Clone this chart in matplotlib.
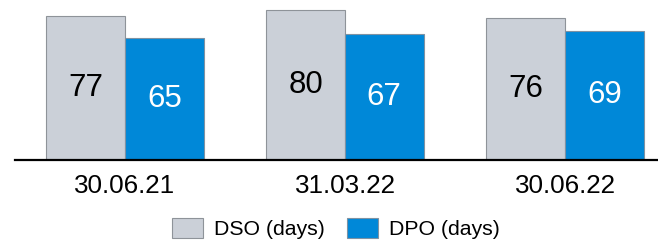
import matplotlib
matplotlib.use("Agg")
import matplotlib.pyplot as plt
from matplotlib.patches import Patch
import numpy as np

plt.rcParams['font.family'] = ['Liberation Sans', 'DejaVu Sans']

categories = ["30.06.21", "31.03.22", "30.06.22"]
dso = [77, 80, 76]
dpo = [65, 67, 69]
series_names = ["DSO (days)", "DPO (days)"]

grey = "#CBD0D8"
blue = "#0088D8"
edge = "#8E9399"

W, H = 658, 240
fig = plt.figure(figsize=(W / 100, H / 100), dpi=100)
ax = fig.add_axes([15 / W, 80 / H, (657 - 15) / W, 160 / H])

x = np.arange(len(categories))
w = 0.357
b1 = ax.bar(x - w / 2, dso, w, color=grey, edgecolor=edge, linewidth=0.8)
b2 = ax.bar(x + w / 2, dpo, w, color=blue, edgecolor="#7E92A3", linewidth=0.8)

for rect, v in zip(b1, dso):
    ax.text(rect.get_x() + rect.get_width() / 2, v / 2, str(v),
            ha="center", va="center", fontsize=22.5, color="black")
for rect, v in zip(b2, dpo):
    ax.text(rect.get_x() + rect.get_width() / 2, v / 2, str(v),
            ha="center", va="center", fontsize=22.5, color="white")

ax.set_xlim(-0.5, 2.418)
ax.set_ylim(0, 85.4)
ax.set_xticks(x)
ax.set_xticklabels(categories, fontsize=18.7)
ax.tick_params(axis="x", length=0, pad=10)
ax.set_yticks([])
for s in ["top", "right", "left"]:
    ax.spines[s].set_visible(False)
ax.spines["bottom"].set_linewidth(1.6)
ax.spines["bottom"].set_color("black")

handles = [Patch(facecolor=grey, edgecolor=edge, linewidth=0.8),
           Patch(facecolor=blue, edgecolor="#7E92A3", linewidth=0.8)]
fig.legend(handles, series_names, loc="center", ncol=2,
           bbox_to_anchor=(336 / W, 1 - 228.5 / H), frameon=False,
           fontsize=15.3, handlelength=1.47, handleheight=1.04,
           handletextpad=0.52, columnspacing=1.04, borderpad=0)

fig.savefig("out.png", dpi=100)
